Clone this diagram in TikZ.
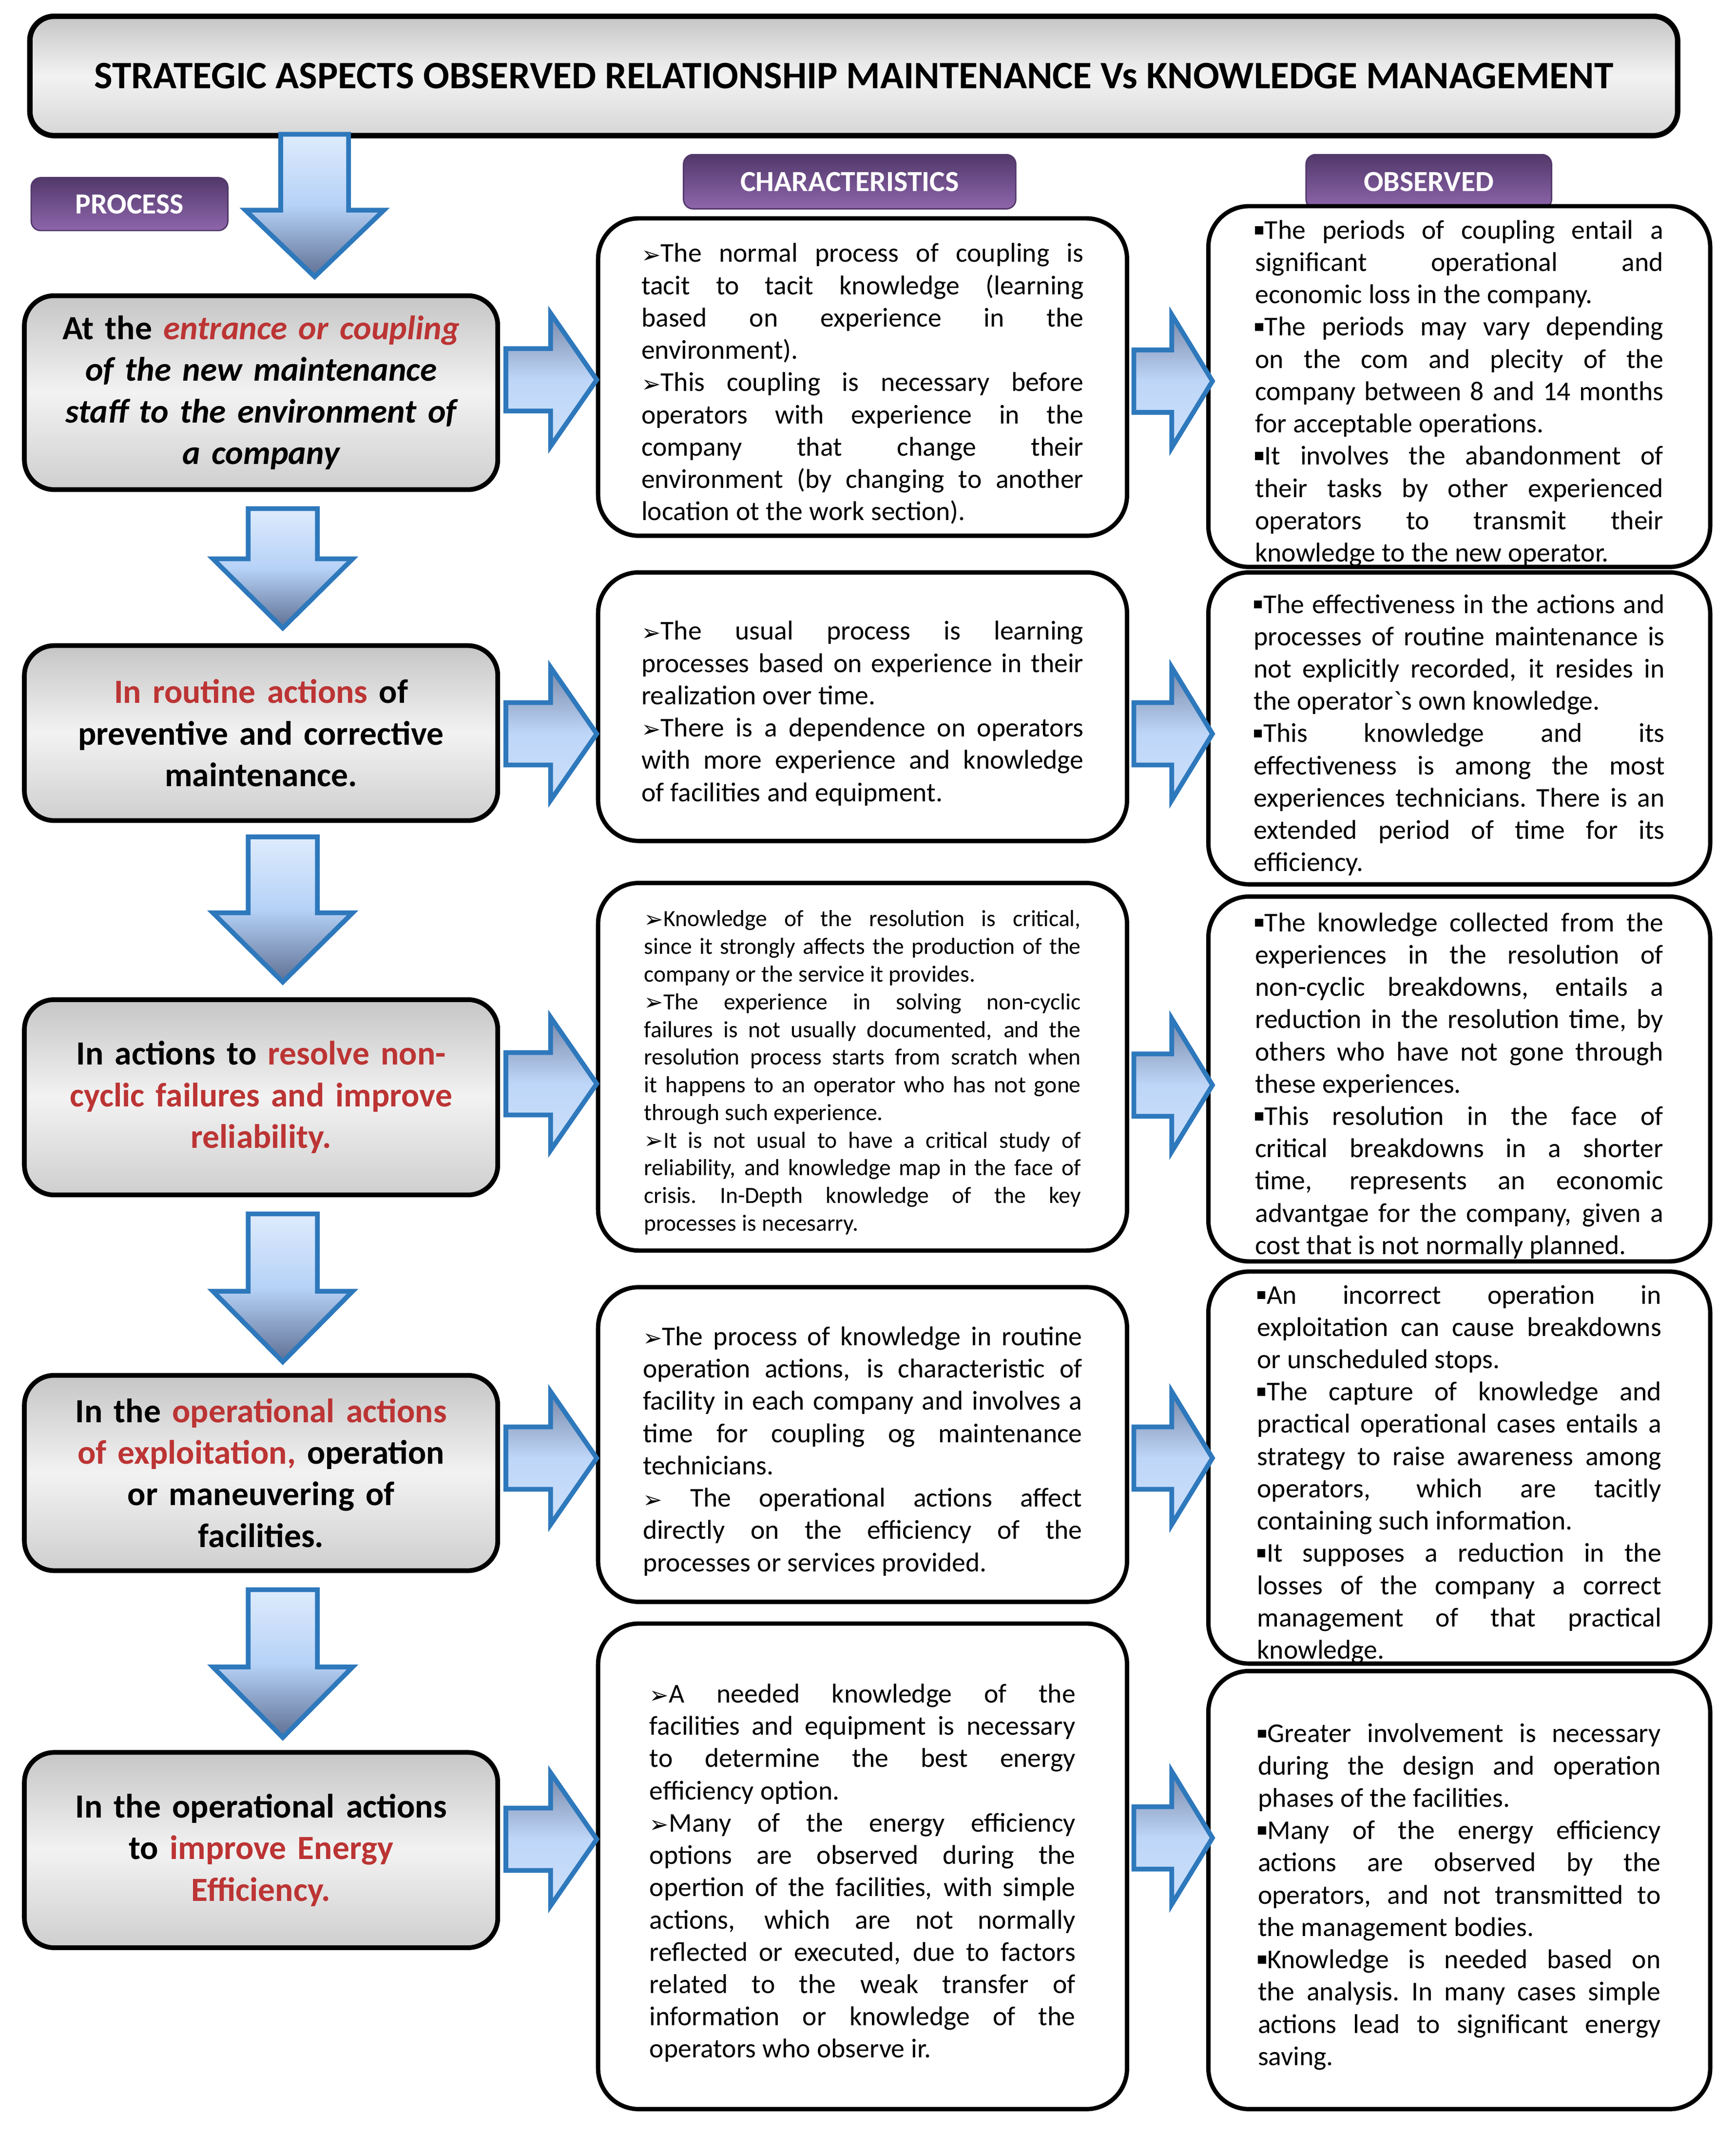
\documentclass[tikz,border=0pt]{standalone}
\usepackage{fontspec}
\setmainfont{Carlito}
\newfontfamily\cf{Carlito}
\newfontfamily\dv{DejaVu Sans}
\usetikzlibrary{shadings}
\definecolor{redt}{RGB}{188,52,52}
\definecolor{arrowline}{RGB}{46,120,188}
\definecolor{purpD}{RGB}{82,56,106}
\definecolor{purpL}{RGB}{142,102,172}
\newdimen\mytw
\newcommand\JL[1]{\par\noindent\hbox to\mytw{\spaceskip=.24em plus 30em minus .06em\xspaceskip=\spaceskip #1}}
\newcommand\LL[1]{\par\noindent\hbox{\spaceskip=.24em\xspaceskip=\spaceskip #1}}
\newcommand\ab{{\dv\fontsize{17}{17}\selectfont\raisebox{-0.5pt}{➢}}}
\newcommand\sq{\rule[3.5pt]{6pt}{6pt}\hspace{1pt}}
\hbadness=10000 \hfuzz=20pt
\tikzset{
  titlebox/.style={draw=black, line width=4pt, rounded corners=18pt,
    top color=gray!45, bottom color=gray!32, middle color=gray!10,
    inner sep=0pt, font=\cf\bfseries\fontsize{28.6}{34}\selectfont},
  proc/.style={draw=black, line width=3.5pt, rounded corners=22pt,
    top color=gray!45, bottom color=gray!38, middle color=gray!10,
    minimum width=349pt, inner sep=0pt, text width=335pt, align=center,
    font=\cf\bfseries\fontsize{25}{30.7}\selectfont},
  wbox/.style={draw=black, line width=3.2pt, rounded corners=30pt, fill=white,
    inner sep=0pt},
  tw/.style={text width=#1, execute at begin node={\global\mytw=#1\relax}},
  ctext/.style={font=\cf\fontsize{20}{23.8}\selectfont},
  cstext/.style={font=\cf\fontsize{17.1}{20.4}\selectfont},
  lab/.style={draw=purpD, line width=1pt, rounded corners=7pt,
    top color=purpD, bottom color=purpL, text=white, inner sep=0pt,
    font=\cf\bfseries\fontsize{21.5}{24}\selectfont},
  blockarr/.style={draw=arrowline, line width=3.5pt, line join=miter},
  downfill/.style={top color={rgb,255:red,222;green,235;blue,252},
    bottom color={rgb,255:red,95;green,112;blue,148},
    middle color={rgb,255:red,182;green,210;blue,247}},
  rightfill/.style={top color={rgb,255:red,120;green,136;blue,168},
    bottom color={rgb,255:red,205;green,224;blue,250},
    middle color={rgb,255:red,190;green,214;blue,248}},
}
% down arrow: cx, top, head base, tip, shaft half, head half
\newcommand\myDown[6]{%
  \path[blockarr, downfill] ({#1-#5},#2) -- ({#1+#5},#2) -- ({#1+#5},#3) -- ({#1+#6},#3)
    -- (#1,#4) -- ({#1-#6},#3) -- ({#1-#5},#3) -- cycle;}
% right arrow: x start, cy, head base x, tip x
\newcommand\myRight[4]{%
  \path[blockarr, rightfill] (#1,{#2-23}) -- (#3,{#2-23}) -- (#3,{#2-49}) -- (#4,#2)
    -- (#3,{#2+49}) -- (#3,{#2+23}) -- (#1,{#2+23}) -- cycle;}
\begin{document}
\begin{tikzpicture}[x=1pt,y=-1pt]
\useasboundingbox[fill=white] (0,0) rectangle (1280,1570.4);

% title
\node[titlebox, minimum width=1215pt, minimum height=88pt] (title) at (629.5,56)
  {STRATEGIC ASPECTS OBSERVED RELATIONSHIP MAINTENANCE Vs KNOWLEDGE MANAGEMENT};

% column labels
\node[lab, minimum width=145pt, minimum height=39pt] (lproc) at (95.5,150.5) {PROCESS};
\node[lab, minimum width=245pt, minimum height=40pt] (lchar) at (626.5,134) {CHARACTERISTICS};
\node[lab, minimum width=181pt, minimum height=40pt] (lobs) at (1053.5,134) {OBSERVED};

% process boxes
\node[proc, minimum height=143pt] (p1) at (192.5,289.5)
  {At the {\color{redt}\itshape entrance or coupling}\\ \itshape of the new maintenance\\ staff to the environment of\\ a company};
\node[proc, minimum height=129pt] (p2) at (192.5,540.5)
  {{\color{redt}In routine actions} of\\ preventive and corrective\\ maintenance.};
\node[proc, minimum height=144pt] (p3) at (192.5,809)
  {In actions to {\color{redt}resolve non-}\\ {\color{redt}cyclic failures and improve}\\ {\color{redt}reliability.}};
\node[proc, minimum height=144pt] (p4) at (192.5,1086)
  {In the {\color{redt}operational actions}\\ {\color{redt}of exploitation,} operation\\ or maneuvering of\\ facilities.};
\node[proc, minimum height=144pt] (p5) at (192.5,1364)
  {In the operational actions\\ to {\color{redt}improve Energy}\\ {\color{redt}Efficiency.}};

% characteristics boxes
\node[wbox, ctext, minimum width=390pt, minimum height=234pt, tw=326pt] (c1) at (636,278) {%
\JL{\ab The normal process of coupling is}
\JL{tacit to tacit knowledge (learning}
\JL{based on experience in the}
\LL{environment).}
\JL{\ab This coupling is necessary before}
\JL{operators with experience in the}
\JL{company that change their}
\JL{environment (by changing to another}
\LL{location ot the work section).}};

\node[wbox, ctext, minimum width=390pt, minimum height=198pt, tw=326pt] (c2) at (636,521) {%
\JL{\ab The usual process is learning}
\JL{processes based on experience in their}
\LL{realization over time.}
\JL{\ab There is a dependence on operators}
\JL{with more experience and knowledge}
\LL{of facilities and equipment.}};

\node[wbox, cstext, minimum width=390pt, minimum height=271pt, tw=322pt] (c3) at (636,786.5) {%
\JL{\ab Knowledge of the resolution is critical,}
\JL{since it strongly affects the production of the}
\LL{company or the service it provides.}
\JL{\ab The experience in solving non-cyclic}
\JL{failures is not usually documented, and the}
\JL{resolution process starts from scratch when}
\JL{it happens to an operator who has not gone}
\LL{through such experience.}
\JL{\ab It is not usual to have a critical study of}
\JL{reliability, and knowledge map in the face of}
\JL{crisis. In-Depth knowledge of the key}
\LL{processes is necesarry.}};

\node[wbox, ctext, minimum width=390pt, minimum height=232pt, tw=324pt] (c4) at (636,1065) {%
\JL{\ab The process of knowledge in routine}
\JL{operation actions, is characteristic of}
\JL{facility in each company and involves a}
\JL{time for coupling og maintenance}
\LL{technicians.}
\JL{\ab\ The operational actions affect}
\JL{directly on the efficiency of the}
\LL{processes or services provided.}};

\node[wbox, ctext, minimum width=390pt, minimum height=358pt, tw=314pt] (c5) at (636,1376) {%
\JL{\ab A needed knowledge of the}
\JL{facilities and equipment is necessary}
\JL{to determine the best energy}
\LL{efficiency option.}
\JL{\ab Many of the energy efficiency}
\JL{options are observed during the}
\JL{opertion of the facilities, with simple}
\JL{actions, which are not normally}
\JL{reflected or executed, due to factors}
\JL{related to the weak transfer of}
\JL{information or knowledge of the}
\LL{operators who observe ir.}};

% observed boxes
\node[wbox, ctext, minimum width=370pt, minimum height=266pt, tw=301pt] (o1) at (1076,285) {%
\JL{\sq The periods of coupling entail a}
\JL{significant operational and}
\LL{economic loss in the company.}
\JL{\sq The periods may vary depending}
\JL{on the com and plecity of the}
\JL{company between 8 and 14 months}
\LL{for acceptable operations.}
\JL{\sq It involves the abandonment of}
\JL{their tasks by other experienced}
\JL{operators to transmit their}
\LL{knowledge to the new operator.}};

\node[wbox, ctext, minimum width=370pt, minimum height=230pt, tw=303pt] (o2) at (1076,537) {%
\JL{\sq The effectiveness in the actions and}
\JL{processes of routine maintenance is}
\JL{not explicitly recorded, it resides in}
\LL{the operator`s own knowledge.}
\JL{\sq This knowledge and its}
\JL{effectiveness is among the most}
\JL{experiences technicians. There is an}
\JL{extended period of time for its}
\LL{efficiency.}};

\node[wbox, ctext, minimum width=370pt, minimum height=269pt, tw=301pt] (o3) at (1076,795.5) {%
\JL{\sq The knowledge collected from the}
\JL{experiences in the resolution of}
\JL{non-cyclic breakdowns, entails a}
\JL{reduction in the resolution time, by}
\JL{others who have not gone through}
\LL{these experiences.}
\JL{\sq This resolution in the face of}
\JL{critical breakdowns in a shorter}
\JL{time, represents an economic}
\JL{advantgae for the company, given a}
\LL{cost that is not normally planned.}};

\node[wbox, ctext, minimum width=370pt, minimum height=288pt, tw=298pt] (o4) at (1076,1082) {%
\JL{\sq An incorrect operation in}
\JL{exploitation can cause breakdowns}
\LL{or unscheduled stops.}
\JL{\sq The capture of knowledge and}
\JL{practical operational cases entails a}
\JL{strategy to raise awareness among}
\JL{operators, which are tacitly}
\LL{containing such information.}
\JL{\sq It supposes a reduction in the}
\JL{losses of the company a correct}
\JL{management of that practical}
\LL{knowledge.}};

\node[wbox, ctext, minimum width=370pt, minimum height=323pt, tw=297pt] (o5) at (1076,1393.5) {%
\JL{\sq Greater involvement is necessary}
\JL{during the design and operation}
\LL{phases of the facilities.}
\JL{\sq Many of the energy efficiency}
\JL{actions are observed by the}
\JL{operators, and not transmitted to}
\LL{the management bodies.}
\JL{\sq Knowledge is needed based on}
\JL{the analysis. In many cases simple}
\JL{actions lead to significant energy}
\LL{saving.}};

% down arrows
\myDown{232}{99}{155}{204}{25}{51}
\myDown{208.5}{375}{412}{463}{25.5}{51.5}
\myDown{208.5}{617}{673}{724}{25.5}{51.5}
\myDown{208.5}{895}{952}{1004}{25.5}{51.5}
\myDown{208.5}{1172}{1229}{1281}{25.5}{51.5}

% right arrows process -> characteristics
\myRight{373}{280}{406}{440}
\myRight{373}{541}{406}{440}
\myRight{373}{799}{406}{440}
\myRight{373}{1075}{406}{440}
\myRight{373}{1356}{406}{440}

% right arrows characteristics -> observed
\myRight{836}{281}{864}{894}
\myRight{836}{541}{864}{894}
\myRight{836}{800}{864}{894}
\myRight{836}{1075}{864}{894}
\myRight{836}{1355}{864}{894}
\end{tikzpicture}
\end{document}
